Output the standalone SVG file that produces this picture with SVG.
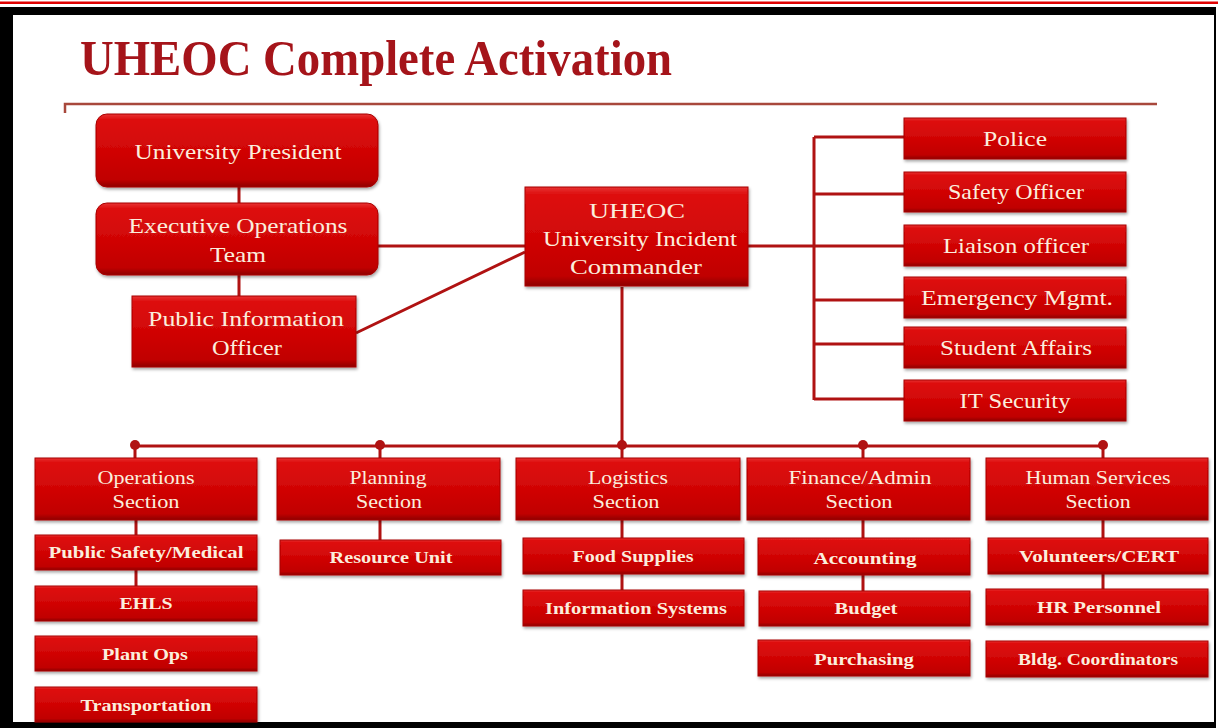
<svg xmlns="http://www.w3.org/2000/svg" width="1218" height="728" viewBox="0 0 1218 728">
<defs>
<linearGradient id="rg" x1="0" y1="0" x2="0" y2="1">
<stop offset="0" stop-color="#e83434"/>
<stop offset="0.07" stop-color="#de1010"/>
<stop offset="0.55" stop-color="#cf0404"/>
<stop offset="0.9" stop-color="#c00000"/>
<stop offset="1" stop-color="#8e0000"/>
</linearGradient>
<filter id="sh" x="-5%" y="-10%" width="110%" height="130%">
<feDropShadow dx="1" dy="2" stdDeviation="1.5" flood-color="#000" flood-opacity="0.35"/>
</filter>
</defs>
<style>
.box{fill:url(#rg);stroke:#a80000;stroke-width:1;filter:url(#sh)}
.t{font-family:"Liberation Serif","Times New Roman",serif;fill:#fbeedd;text-anchor:middle}
.big{font-size:21px}
.sec{font-size:18px}
.sub{font-size:17px;font-weight:bold}
.ln{stroke:#b01212;stroke-width:3;fill:none}
.dot{fill:#b01212}
</style>
<rect x="0" y="0" width="1218" height="728" fill="#ffffff"/>
<rect x="0" y="1.5" width="1218" height="2.5" fill="#e00000"/>
<rect x="0" y="7" width="1216" height="721" fill="#000000"/>
<rect x="13" y="15" width="1201" height="707" fill="#ffffff"/>
<text x="80" y="75" font-family="Liberation Serif, Times New Roman, serif" font-weight="bold" font-size="50" fill="#a5141a" textLength="592" lengthAdjust="spacingAndGlyphs">UHEOC Complete Activation</text>
<path d="M65 113 V104 H1157" stroke="#a8483c" stroke-width="2.5" fill="none"/>
<g id="connectors">
<path class="ln" d="M239 187 V203 M239 275 V296 M378 246 H525 M356 333 L525 252 M748 246 H814 M814 137 V400 M814 137 H904 M814 194 H904 M814 246 H904 M814 300 H904 M814 344 H904 M814 399 H904 M622 287 V446 M135 446 H1103"/>
<path class="ln" d="M135 446 V458 M380 446 V458 M622 446 V458 M863 446 V458 M1103 446 V458"/>
<path class="ln" d="M136 520 V535 M136 570 V586 M380 520 V540 M622 520 V538 M622 574 V590 M863 520 V538 M863 575 V591 M1103 520 V538 M1103 574 V589"/>
<circle class="dot" cx="135" cy="445" r="5"/>
<circle class="dot" cx="380" cy="445" r="5"/>
<circle class="dot" cx="622" cy="445" r="5"/>
<circle class="dot" cx="863" cy="445" r="5"/>
<circle class="dot" cx="1103" cy="445" r="5"/>
</g>
<g id="n-president"><rect class="box" x="96" y="114" width="282" height="73" rx="11"/><text class="t big" x="238" y="159" textLength="207" lengthAdjust="spacingAndGlyphs">University President</text></g>
<g id="n-exec"><rect class="box" x="96" y="203" width="282" height="72" rx="11"/><text class="t big" x="238" y="233" textLength="219" lengthAdjust="spacingAndGlyphs">Executive Operations</text><text class="t big" x="238" y="262" textLength="56" lengthAdjust="spacingAndGlyphs">Team</text></g>
<g id="n-pio"><rect class="box" x="132" y="296" width="224" height="71"/><text class="t big" x="246" y="326" textLength="196" lengthAdjust="spacingAndGlyphs">Public Information</text><text class="t big" x="247" y="355" textLength="70" lengthAdjust="spacingAndGlyphs">Officer</text></g>
<g id="n-uheoc"><rect class="box" x="525" y="187" width="223" height="99"/><text class="t big" x="637" y="218" textLength="96" lengthAdjust="spacingAndGlyphs">UHEOC</text><text class="t big" x="640" y="246" textLength="194" lengthAdjust="spacingAndGlyphs">University Incident</text><text class="t big" x="636" y="274" textLength="132" lengthAdjust="spacingAndGlyphs">Commander</text></g>
<g id="n-police"><rect class="box" x="904" y="118" width="222" height="41"/><text class="t big" x="1015" y="146" textLength="64" lengthAdjust="spacingAndGlyphs">Police</text></g>
<g id="n-safety"><rect class="box" x="904" y="172" width="222" height="40"/><text class="t big" x="1016" y="199" textLength="136" lengthAdjust="spacingAndGlyphs">Safety Officer</text></g>
<g id="n-liaison"><rect class="box" x="904" y="225" width="222" height="41"/><text class="t big" x="1016" y="253" textLength="146" lengthAdjust="spacingAndGlyphs">Liaison officer</text></g>
<g id="n-emergency"><rect class="box" x="904" y="277" width="222" height="41"/><text class="t big" x="1017" y="305" textLength="192" lengthAdjust="spacingAndGlyphs">Emergency Mgmt.</text></g>
<g id="n-student"><rect class="box" x="904" y="327" width="222" height="41"/><text class="t big" x="1016" y="355" textLength="152" lengthAdjust="spacingAndGlyphs">Student Affairs</text></g>
<g id="n-it"><rect class="box" x="904" y="380" width="222" height="41"/><text class="t big" x="1015" y="408" textLength="111" lengthAdjust="spacingAndGlyphs">IT Security</text></g>
<g id="n-ops"><rect class="box" x="35" y="458" width="222" height="62"/><text class="t sec" x="146" y="484" textLength="97" lengthAdjust="spacingAndGlyphs">Operations</text><text class="t sec" x="146" y="508" textLength="67" lengthAdjust="spacingAndGlyphs">Section</text></g>
<g id="n-planning"><rect class="box" x="277" y="458" width="223" height="62"/><text class="t sec" x="388" y="484" textLength="77" lengthAdjust="spacingAndGlyphs">Planning</text><text class="t sec" x="389" y="508" textLength="66" lengthAdjust="spacingAndGlyphs">Section</text></g>
<g id="n-logistics"><rect class="box" x="516" y="458" width="224" height="62"/><text class="t sec" x="628" y="484" textLength="80" lengthAdjust="spacingAndGlyphs">Logistics</text><text class="t sec" x="626" y="508" textLength="67" lengthAdjust="spacingAndGlyphs">Section</text></g>
<g id="n-finance"><rect class="box" x="747" y="458" width="223" height="62"/><text class="t sec" x="860" y="484" textLength="143" lengthAdjust="spacingAndGlyphs">Finance/Admin</text><text class="t sec" x="859" y="508" textLength="67" lengthAdjust="spacingAndGlyphs">Section</text></g>
<g id="n-human"><rect class="box" x="986" y="458" width="222" height="62"/><text class="t sec" x="1098" y="484" textLength="145" lengthAdjust="spacingAndGlyphs">Human Services</text><text class="t sec" x="1098" y="508" textLength="65" lengthAdjust="spacingAndGlyphs">Section</text></g>
<g id="n-psm"><rect class="box" x="35" y="535" width="222" height="35"/><text class="t sub" x="146" y="558" textLength="195" lengthAdjust="spacingAndGlyphs">Public Safety/Medical</text></g>
<g id="n-ehls"><rect class="box" x="35" y="586" width="222" height="35"/><text class="t sub" x="146" y="609" textLength="53" lengthAdjust="spacingAndGlyphs">EHLS</text></g>
<g id="n-plant"><rect class="box" x="35" y="636" width="222" height="35"/><text class="t sub" x="145" y="660" textLength="86" lengthAdjust="spacingAndGlyphs">Plant Ops</text></g>
<g id="n-transport"><rect class="box" x="35" y="687" width="222" height="35"/><text class="t sub" x="146" y="711" textLength="131" lengthAdjust="spacingAndGlyphs">Transportation</text></g>
<g id="n-resource"><rect class="box" x="280" y="540" width="221" height="35"/><text class="t sub" x="391" y="563" textLength="123" lengthAdjust="spacingAndGlyphs">Resource Unit</text></g>
<g id="n-food"><rect class="box" x="523" y="538" width="221" height="36"/><text class="t sub" x="633" y="562" textLength="121" lengthAdjust="spacingAndGlyphs">Food Supplies</text></g>
<g id="n-infosys"><rect class="box" x="523" y="590" width="221" height="36"/><text class="t sub" x="636" y="614" textLength="182" lengthAdjust="spacingAndGlyphs">Information Systems</text></g>
<g id="n-accounting"><rect class="box" x="758" y="538" width="212" height="37"/><text class="t sub" x="865" y="564" textLength="103" lengthAdjust="spacingAndGlyphs">Accounting</text></g>
<g id="n-budget"><rect class="box" x="759" y="591" width="211" height="35"/><text class="t sub" x="866" y="614" textLength="63" lengthAdjust="spacingAndGlyphs">Budget</text></g>
<g id="n-purchasing"><rect class="box" x="758" y="640" width="212" height="36"/><text class="t sub" x="864" y="665" textLength="100" lengthAdjust="spacingAndGlyphs">Purchasing</text></g>
<g id="n-volunteers"><rect class="box" x="988" y="538" width="220" height="36"/><text class="t sub" x="1099" y="562" textLength="160" lengthAdjust="spacingAndGlyphs">Volunteers/CERT</text></g>
<g id="n-hr"><rect class="box" x="986" y="589" width="222" height="36"/><text class="t sub" x="1099" y="613" textLength="124" lengthAdjust="spacingAndGlyphs">HR Personnel</text></g>
<g id="n-bldg"><rect class="box" x="986" y="641" width="222" height="36"/><text class="t sub" x="1098" y="665" textLength="160" lengthAdjust="spacingAndGlyphs">Bldg. Coordinators</text></g>
</svg>
